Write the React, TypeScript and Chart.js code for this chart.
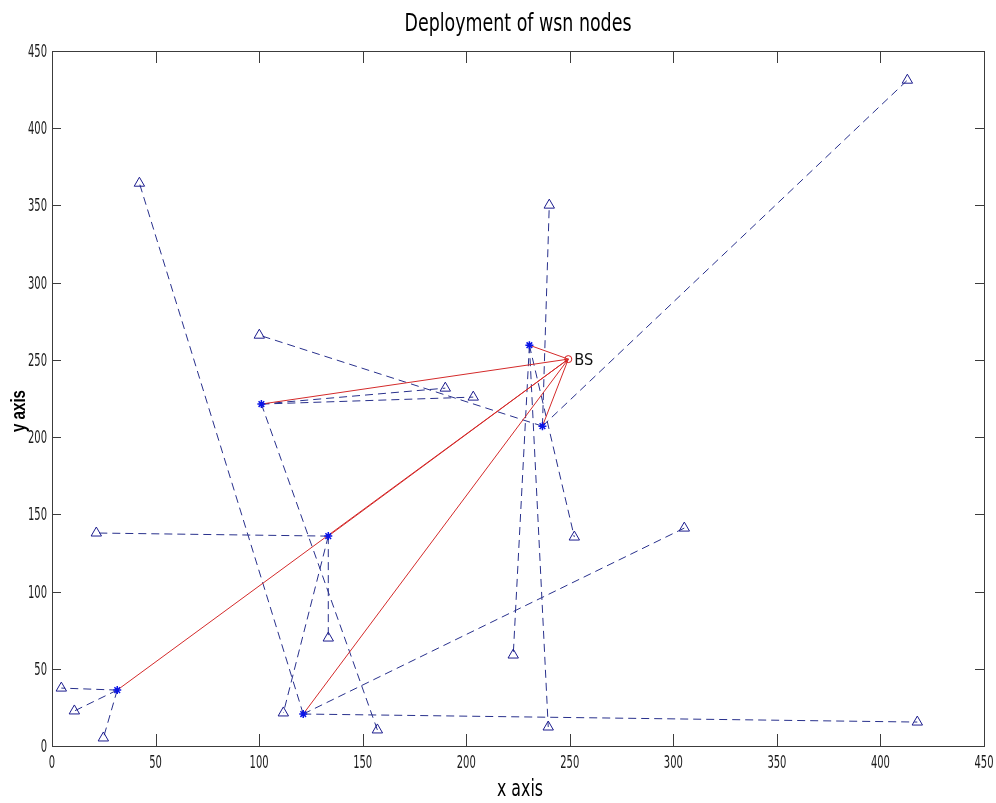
import React, { useEffect, useRef } from "react";
import { Chart, registerables } from "chart.js";
Chart.register(...registerables);

// ---- data ----
const xTicks = [0, 50, 100, 150, 200, 250, 300, 350, 400, 450];
const yTicks = [0, 50, 100, 150, 200, 250, 300, 350, 400, 450];

// cluster heads (stars)
const headX = [31.5, 133.4, 121.3, 101.1, 230.5, 236.8];
const headY = [36.2, 135.9, 20.7, 221.4, 259.5, 207.1];

// member nodes (triangles) and the cluster head each one reports to
const nodeX = [4.5, 10.8, 24.8, 21.4, 133.4, 111.7, 42.2, 305.3, 417.8, 189.9, 203.4, 157.1, 222.7, 239.6, 252.2, 100.1, 240.1, 413.0];
const nodeY = [37.5, 22.7, 5.2, 137.9, 69.9, 21.4, 364.4, 141.1, 15.5, 231.7, 225.9, 10.4, 58.9, 12.3, 135.3, 266.0, 350.2, 431.1];
const nodeHead = [0, 0, 0, 1, 1, 1, 2, 2, 2, 3, 3, 3, 4, 4, 4, 5, 5, 5];

// base station
const bsX = [249.3];
const bsY = [250.5];
const bsLabel = "BS";

const titleText = "Deployment of wsn nodes";
const xLabel = "x axis";
const yLabel = "y axis";

const NARROW = "'Liberation Sans Narrow', 'DejaVu Sans Condensed', 'Liberation Sans', sans-serif";

function fitText(ctx: CanvasRenderingContext2D, text: string, x: number, y: number, font: string, width: number, align: CanvasTextAlign) {
  ctx.font = font;
  const w = ctx.measureText(text).width;
  const sx = width / w;
  ctx.save();
  ctx.translate(x, y);
  ctx.scale(sx, 1);
  ctx.textAlign = align;
  ctx.fillText(text, 0, 0);
  ctx.restore();
}

const decor = {
  id: "decor",
  afterDraw(chart: any) {
    const { ctx, chartArea: a, scales } = chart;
    const xs = scales.x;
    const ys = scales.y;
    ctx.save();
    // box
    ctx.strokeStyle = "#3c3c3c";
    ctx.lineWidth = 1;
    ctx.strokeRect(Math.round(a.left) + 0.5, Math.round(a.top) + 0.5, Math.round(a.right - a.left), Math.round(a.bottom - a.top));
    // inward ticks
    ctx.beginPath();
    xTicks.forEach((v) => {
      const px = Math.round(xs.getPixelForValue(v)) + 0.5;
      ctx.moveTo(px, a.bottom);
      ctx.lineTo(px, a.bottom - 12);
      ctx.moveTo(px, a.top);
      ctx.lineTo(px, a.top + 12);
    });
    yTicks.forEach((v) => {
      const py = Math.round(ys.getPixelForValue(v)) + 0.5;
      ctx.moveTo(a.left, py);
      ctx.lineTo(a.left + 9, py);
      ctx.moveTo(a.right, py);
      ctx.lineTo(a.right - 9, py);
    });
    ctx.stroke();

    // tick labels
    ctx.fillStyle = "#1a1a1a";
    ctx.textBaseline = "alphabetic";
    const tf = `18px ${NARROW}`;
    ctx.font = tf;
    const sx = 19 / ctx.measureText("100").width;
    const drawTick = (t: string, x: number, y: number, align: CanvasTextAlign) => {
      ctx.save();
      ctx.font = tf;
      ctx.translate(x, y);
      ctx.scale(sx, 1);
      ctx.textAlign = align;
      ctx.fillText(t, 0, 0);
      ctx.restore();
    };
    xTicks.forEach((v) => drawTick(String(v), xs.getPixelForValue(v), a.bottom + 22, "center"));
    yTicks.forEach((v) => drawTick(String(v), a.left - 5, ys.getPixelForValue(v) + 6, "right"));

    // title
    ctx.fillStyle = "#000";
    fitText(ctx, titleText, (a.left + a.right) / 2, 31, `25px ${NARROW}`, 227, "center");
    // x label
    fitText(ctx, xLabel, 520, 796, `23px ${NARROW}`, 46, "center");
    // y label (rotated, bold)
    ctx.save();
    ctx.translate(25, 411);
    ctx.rotate(-Math.PI / 2);
    fitText(ctx, yLabel, 0, 0, `bold 21px 'Liberation Sans', Arial, sans-serif`, 42, "center");
    ctx.restore();

    // BS label
    ctx.fillStyle = "#111";
    const bx = xs.getPixelForValue(bsX[0]);
    const by = ys.getPixelForValue(bsY[0]);
    fitText(ctx, bsLabel, bx + 6, by + 6, `16px ${NARROW}`, 19, "left");
    ctx.restore();
  },
};

export default function App() {
  const ref = useRef<HTMLCanvasElement>(null);
  useEffect(() => {
    if (!ref.current) return;
    const dashed = nodeX.map((x, i) => ({
      data: [
        { x: headX[nodeHead[i]], y: headY[nodeHead[i]] },
        { x, y: nodeY[i] },
      ],
      showLine: true,
      borderColor: "#28308c",
      borderWidth: 1,
      borderDash: [8, 5],
      pointRadius: 0,
      order: 3,
    }));
    const red = headX.map((x, i) => ({
      data: [
        { x, y: headY[i] },
        { x: bsX[0], y: bsY[0] },
      ],
      showLine: true,
      borderColor: "#d42a2a",
      borderWidth: 1,
      pointRadius: 0,
      order: 2,
    }));
    const nodes = {
      data: nodeX.map((x, i) => ({ x, y: nodeY[i] })),
      showLine: false,
      pointStyle: "triangle",
      pointRadius: 6,
      borderColor: "#1c1c8e",
      backgroundColor: "rgba(0,0,0,0)",
      pointBorderWidth: 1,
      order: 0,
    };
    const heads = {
      data: headX.map((x, i) => ({ x, y: headY[i] })),
      showLine: false,
      pointStyle: "star",
      pointRadius: 4,
      borderColor: "#0a14e6",
      backgroundColor: "#0a14e6",
      pointBorderWidth: 1.5,
      order: 0,
    };
    const bs = {
      data: bsX.map((x, i) => ({ x, y: bsY[i] })),
      showLine: false,
      pointStyle: "circle",
      pointRadius: 3.5,
      borderColor: "#d41a1a",
      backgroundColor: "rgba(0,0,0,0)",
      pointBorderWidth: 1,
      order: 0,
    };
    const chart = new Chart(ref.current, {
      type: "scatter",
      data: { datasets: [nodes, heads, bs, ...red, ...dashed] as any },
      options: {
        animation: false,
        responsive: false,
        devicePixelRatio: 1,
        events: [],
        layout: { padding: { left: 52, right: 12, top: 51, bottom: 57 } },
        plugins: { legend: { display: false }, tooltip: { enabled: false }, title: { display: false } },
        scales: {
          x: { type: "linear", min: 0, max: 450, display: false },
          y: { type: "linear", min: 0, max: 450, display: false },
        },
      },
      plugins: [decor],
    });
    return () => chart.destroy();
  }, []);
  return (
    <div style={{ position: "absolute", left: 0, top: 0, width: 996, height: 803, background: "#fff" }}>
      <canvas ref={ref} width={996} height={803} style={{ display: "block" }} />
    </div>
  );
}
